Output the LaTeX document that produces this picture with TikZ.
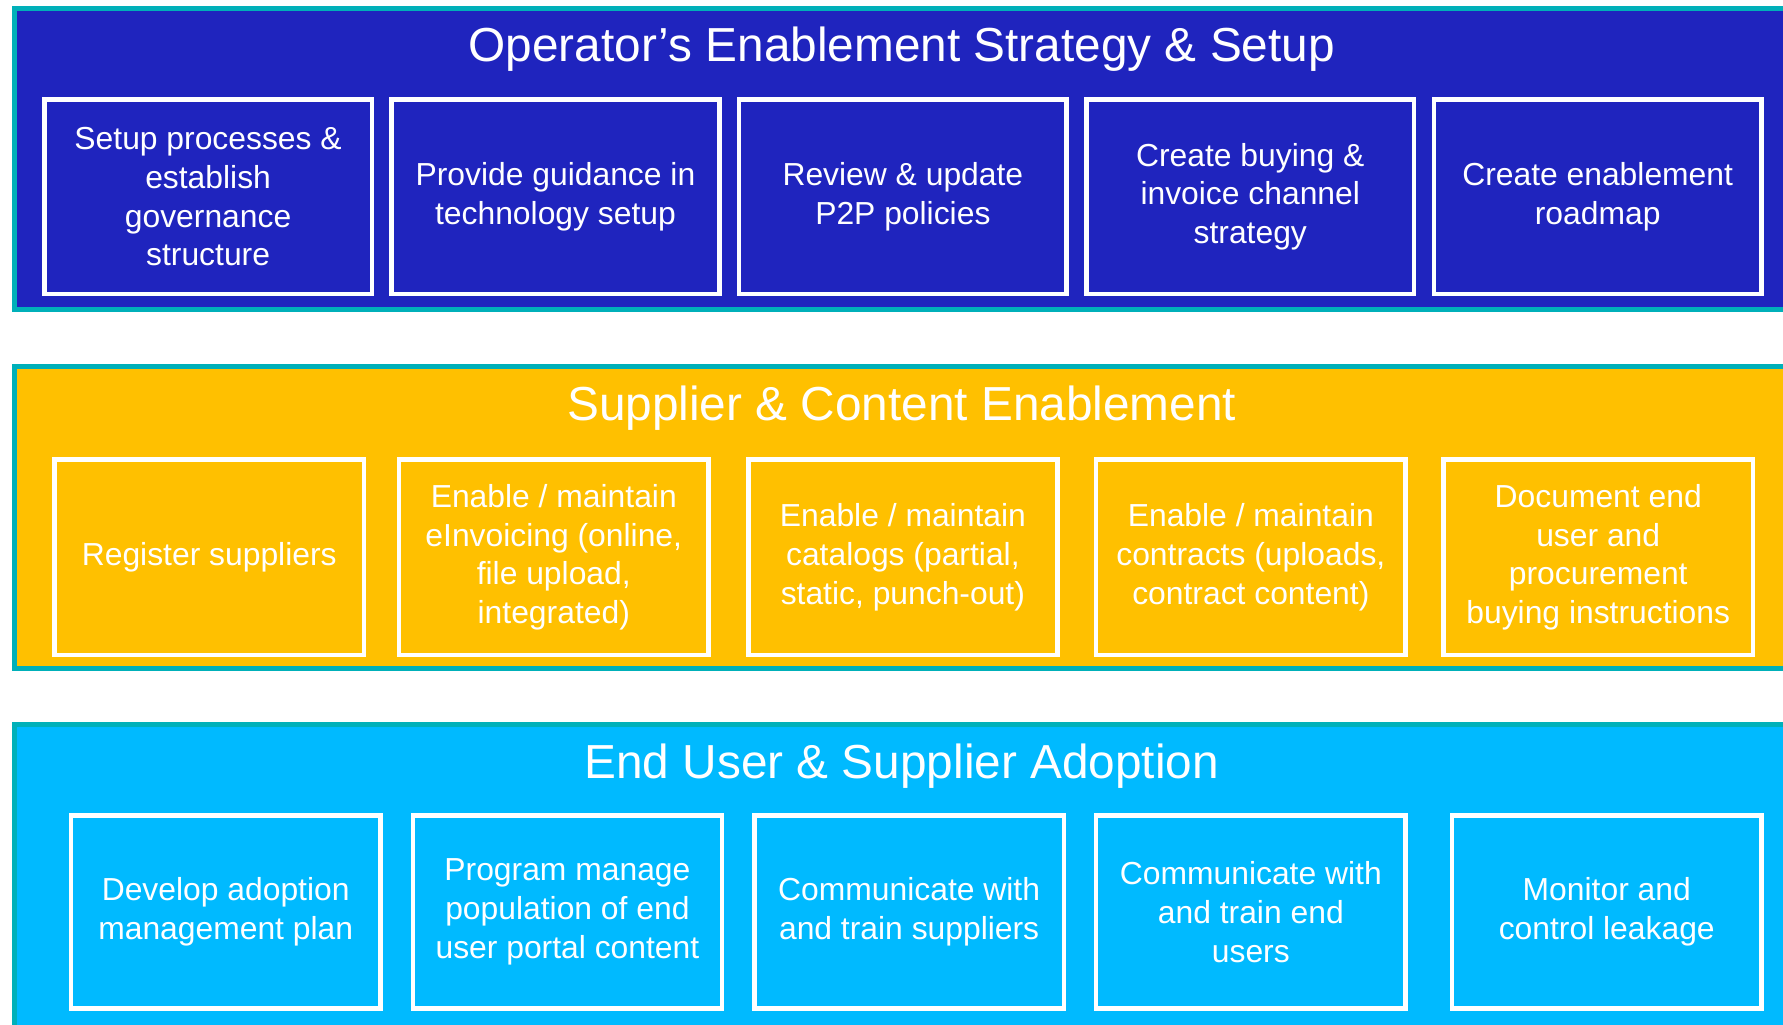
\documentclass[tikz,border=0pt]{standalone}
\usepackage{fontspec}
\setmainfont{Liberation Sans}
\usetikzlibrary{positioning}
\definecolor{opblue}{RGB}{31,36,190}
\definecolor{bandedge}{RGB}{0,176,185}
\definecolor{supgold}{RGB}{255,192,0}
\definecolor{adosky}{RGB}{0,186,255}

\begin{document}
\begin{tikzpicture}[x=1pt,y=-1pt,
  band/.style={draw=bandedge,line width=4.5pt},
  heading/.style={text=white,anchor=base,font=\fontsize{42}{50}\selectfont},
  task/.style={draw=white,line width=4pt,text=white,align=center,inner sep=0pt,
    minimum width=272pt,minimum height=172pt,font=\fontsize{28}{34}\selectfont}]
  \useasboundingbox (0,0) rectangle (1568,901);
  \clip (0,0) rectangle (1568,901);

  \draw[band,fill=opblue]  (12.5,7.5)   rectangle (1600,272.5);
  \draw[band,fill=supgold] (12.5,322.5) rectangle (1600,587.5);
  \draw[band,fill=adosky]  (12.5,637.5) rectangle (1600,950);

  \node[heading] (optitle)  at (793,54)  {Operator's Enablement Strategy \& Setup};
  \node[heading] (suptitle) at (793,370) {Supplier \& Content Enablement};
  \node[heading] (adotitle) at (793,685) {End User \& Supplier Adoption};

  \begin{scope}[node distance=13.5pt,task/.append style={minimum width=288pt,minimum height=171pt}]
  \node[task] (op1) at (183,173) {Setup processes \&\\establish\\governance\\structure};
  \node[task] (op2) [right=of op1] {Provide guidance in\\technology setup};
  \node[task] (op3) [right=of op2] {Review \& update\\P2P policies};
  \node[task] (op4) [right=of op3] {Create buying \&\\invoice channel\\strategy};
  \node[task] (op5) [right=of op4] {Create enablement\\roadmap};
  \end{scope}

  \begin{scope}[node distance=30pt]
  \node[task] (sup1) at (184,490) {Register suppliers};
  \node[task] (sup2) [right=27pt of sup1] {Enable / maintain\\eInvoicing (online,\\file upload,\\integrated)};
  \node[task] (sup3) [right=31pt of sup2] {Enable / maintain\\catalogs (partial,\\static, punch-out)};
  \node[task] (sup4) [right=of sup3] {Enable / maintain\\contracts (uploads,\\contract content)};
  \node[task] (sup5) [right=29.5pt of sup4] {Document end\\user and\\procurement\\buying instructions};
  \end{scope}

  \begin{scope}[node distance=24.5pt,task/.append style={minimum height=170pt}]
  \node[task] (ado1) at (198.5,802) {Develop adoption\\management plan};
  \node[task] (ado2) [right=of ado1] {Program manage\\population of end\\user portal content};
  \node[task] (ado3) [right=of ado2] {Communicate with\\and train suppliers};
  \node[task] (ado4) [right=of ado3] {Communicate with\\and train end\\users};
  \node[task] (ado5) [right=37pt of ado4] {Monitor and\\control leakage};
  \end{scope}
\end{tikzpicture}
\end{document}
